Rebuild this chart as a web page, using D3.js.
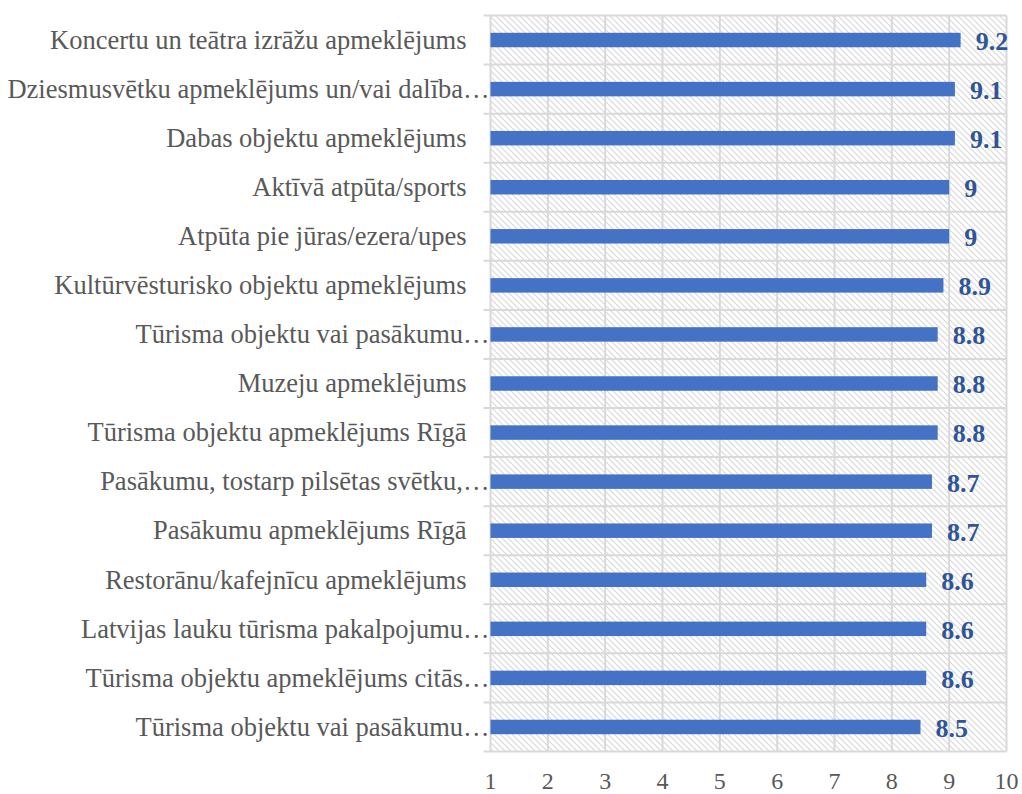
<!DOCTYPE html>
<html>
<head>
<meta charset="utf-8">
<script src="https://cdn.jsdelivr.net/npm/d3@7"></script>
<style>
  body { margin: 0; background: #fff; }
  .cat-label { font-family: "Liberation Serif", "Times New Roman", serif; font-size: 26.5px; fill: #595959; }
  .tick-label { font-family: "Liberation Serif", "Times New Roman", serif; font-size: 24px; fill: #595959; }
  .val-label { font-family: "Liberation Serif", "Times New Roman", serif; font-size: 26px; font-weight: bold; fill: #2f5597; }
</style>
</head>
<body>
<div class="chart"></div>
<script>
// Data
const categories = [
  'Koncertu un teātra izrāžu apmeklējums',
  'Dziesmusvētku apmeklējums un/vai dalība…',
  'Dabas objektu apmeklējums',
  'Aktīvā atpūta/sports',
  'Atpūta pie jūras/ezera/upes',
  'Kultūrvēsturisko objektu apmeklējums',
  'Tūrisma objektu vai pasākumu…',
  'Muzeju apmeklējums',
  'Tūrisma objektu apmeklējums Rīgā',
  'Pasākumu, tostarp pilsētas svētku,…',
  'Pasākumu apmeklējums Rīgā',
  'Restorānu/kafejnīcu apmeklējums',
  'Latvijas lauku tūrisma pakalpojumu…',
  'Tūrisma objektu apmeklējums citās…',
  'Tūrisma objektu vai pasākumu…'
]
const values = [9.2, 9.1, 9.1, 9.0, 9.0, 8.9, 8.8, 8.8, 8.8, 8.7, 8.7, 8.6, 8.6, 8.6, 8.5]
const valueLabels = ['9.2', '9.1', '9.1', '9', '9', '8.9', '8.8', '8.8', '8.8', '8.7', '8.7', '8.6', '8.6', '8.6', '8.5']
const xTicks = [1, 2, 3, 4, 5, 6, 7, 8, 9, 10]

// Dimensions
let dimensions = {
  width: 1022,
  height: 794,
  left: 490.5,
  right: 1006.5,
  top: 15.5,
  bottom: 751.5
}

const svg = d3.select('.chart')
  .append('svg')
  .attr('width', dimensions.width)
  .attr('height', dimensions.height)

// hatch pattern for plot background
const defs = svg.append('defs')
const pattern = defs.append('pattern')
  .attr('id', 'hatch')
  .attr('patternUnits', 'userSpaceOnUse')
  .attr('width', 6)
  .attr('height', 6)
pattern.append('rect')
  .attr('width', 6).attr('height', 6).attr('fill', '#fff')
pattern.append('path')
  .attr('d', 'M-1,-1 L7,7 M-1,5 L1,7 M5,-1 L7,1')
  .attr('stroke', '#d9d9d9')
  .attr('stroke-width', 1.2)

const xScale = d3.scaleLinear()
  .domain([1, 10])
  .range([dimensions.left, dimensions.right])

const yScale = d3.scaleBand()
  .domain(categories.map((d, i) => i))
  .range([dimensions.top, dimensions.bottom])
  .paddingInner(0.705)
  .paddingOuter(0.3525)

const band = (dimensions.bottom - dimensions.top) / categories.length

svg.append('rect')
  .attr('x', dimensions.left)
  .attr('y', dimensions.top)
  .attr('width', dimensions.right - dimensions.left)
  .attr('height', dimensions.bottom - dimensions.top)
  .attr('fill', 'url(#hatch)')

// vertical gridlines
svg.append('g')
  .selectAll('line')
  .data(xTicks)
  .join('line')
  .attr('x1', d => xScale(d))
  .attr('x2', d => xScale(d))
  .attr('y1', dimensions.top)
  .attr('y2', dimensions.bottom)
  .attr('stroke', '#d9d9d9')
  .attr('stroke-width', 2)

// horizontal category separators (with small tick outside the axis)
svg.append('g')
  .selectAll('line')
  .data(d3.range(categories.length + 1))
  .join('line')
  .attr('x1', dimensions.left - 7)
  .attr('x2', dimensions.right)
  .attr('y1', i => dimensions.top + i * band)
  .attr('y2', i => dimensions.top + i * band)
  .attr('stroke', '#d9d9d9')
  .attr('stroke-width', 2)

// Bars
svg.append('g')
  .selectAll('rect')
  .data(values)
  .join('rect')
  .attr('x', xScale(1))
  .attr('y', (d, i) => yScale(i))
  .attr('width', d => xScale(d) - xScale(1))
  .attr('height', yScale.bandwidth())
  .attr('fill', '#4472c4')

// Value labels
svg.append('g')
  .selectAll('text')
  .data(values)
  .join('text')
  .attr('class', 'val-label')
  .attr('x', d => xScale(d) + 15)
  .attr('y', (d, i) => yScale(i) + yScale.bandwidth() / 2)
  .attr('dy', '0.38em')
  .text((d, i) => valueLabels[i])

// Category labels - truncated ones reach the axis
svg.append('g')
  .selectAll('text')
  .data(categories)
  .join('text')
  .attr('class', 'cat-label')
  .attr('text-anchor', 'end')
  .attr('x', d => d.endsWith('…') ? dimensions.left - 1 : dimensions.left - 24)
  .attr('y', (d, i) => yScale(i) + yScale.bandwidth() / 2)
  .attr('dy', '0.33em')
  .text(d => d)

// X axis tick labels
svg.append('g')
  .selectAll('text')
  .data(xTicks)
  .join('text')
  .attr('class', 'tick-label')
  .attr('text-anchor', 'middle')
  .attr('x', d => xScale(d))
  .attr('y', 789)
  .text(d => d)
</script>
</body>
</html>
